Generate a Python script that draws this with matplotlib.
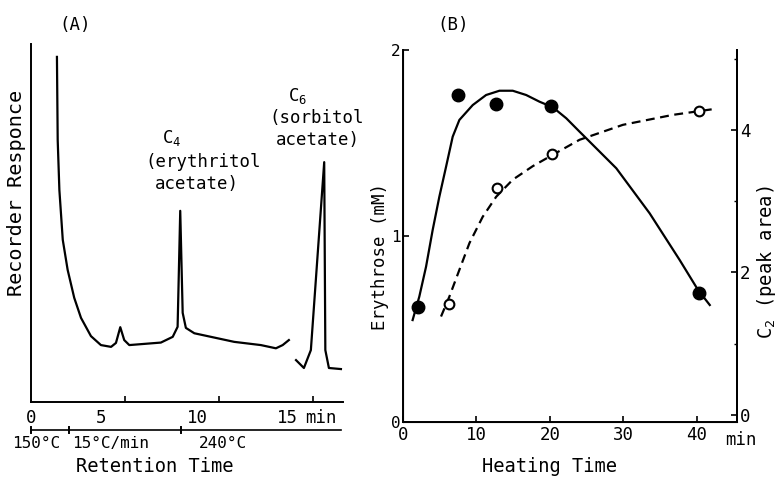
import numpy as np
import matplotlib
matplotlib.use("Agg")
import matplotlib.pyplot as plt

plt.rcParams["font.family"] = ["DejaVu Sans Mono"]
plt.rcParams["mathtext.fontset"] = "custom"
plt.rcParams["mathtext.rm"] = "DejaVu Sans Mono"
plt.rcParams["mathtext.it"] = "DejaVu Sans Mono"

# (A) chromatogram trace, retention time [min] vs recorder response (arbitrary)
chrom_t = [1.38, 1.42, 1.51, 1.69, 1.95, 2.30, 2.66, 3.19, 3.72, 4.26, 4.52, 4.75, 4.96,
           5.23, 6.91, 7.54, 7.80, 7.94, 8.07, 8.24, 8.69, 10.81, 12.23, 13.03, 13.39, 13.72]
chrom_r = [96.4, 73.2, 59.2, 45.3, 36.9, 29.1, 23.5, 18.4, 15.9, 15.4, 16.5, 20.9, 17.3,
           15.9, 16.6, 18.2, 21.0, 53.4, 24.9, 20.7, 19.2, 16.8, 15.9, 15.0, 15.9, 17.3]
sorb_t = [14.10, 14.52, 14.89, 15.60, 15.66, 15.85, 16.49]
sorb_r = [11.7, 9.5, 14.5, 67.0, 14.5, 9.5, 9.2]

# (B) measured points
ery_t = [2.1, 7.45, 12.7, 20.2, 40.3]
ery_mM = [0.62, 1.76, 1.71, 1.70, 0.695]
c2_t = [6.3, 12.8, 20.3, 40.3]
c2_area = [1.55, 3.18, 3.66, 4.27]

# (B) hand-drawn trend curves
ery_fit_t = [1.31, 2.22, 3.14, 4.04, 4.95, 5.87, 6.77, 7.68, 9.50, 11.32, 13.14, 14.95,
             16.78, 18.60, 20.41, 22.24, 24.05, 24.97, 29.06, 33.6, 37.69, 40.19, 41.79]
ery_fit = [0.548, 0.674, 0.835, 1.032, 1.211, 1.373, 1.534, 1.624, 1.704, 1.758, 1.781,
           1.781, 1.758, 1.722, 1.692, 1.633, 1.561, 1.525, 1.364, 1.122, 0.871, 0.710, 0.629]
c2_fit_t = [5.18, 6.32, 7.68, 9.05, 10.86, 12.69, 14.95, 17.68, 20.41, 24.05, 29.96,
            36.78, 40.19, 42.24]
c2_fit = [1.38, 1.66, 2.035, 2.41, 2.78, 3.06, 3.30, 3.49, 3.65, 3.86, 4.07, 4.21, 4.26, 4.29]

W, H = 777, 478
fig = plt.figure(figsize=(W / 100, H / 100), dpi=100)


def px_axes(l, t, r, b):
    return fig.add_axes([l / W, 1 - b / H, (r - l) / W, (b - t) / H])


def ftext(x, y, s, **kw):
    fig.text(x / W, 1 - y / H, s, ha="center", va="center", **kw)


fs = 12.5

# ---------------- panel A ----------------
axA = px_axes(31, 44, 343, 402)
axA.plot(chrom_t, chrom_r, color="k", lw=1.6, solid_joinstyle="round")
axA.plot(sorb_t, sorb_r, color="k", lw=1.6, solid_joinstyle="round")
axA.set_xlim(0, 16.6)
axA.set_ylim(0, 100)
for s in ["top", "right"]:
    axA.spines[s].set_visible(False)
for s in ["left", "bottom"]:
    axA.spines[s].set_linewidth(1.4)
axA.set_yticks([])
axA.set_xticks([5, 10, 15])
axA.set_xticklabels([])
axA.tick_params(axis="x", direction="in", length=4, width=1.2)

trA = axA.get_xaxis_transform()
for x, s in [(0, "0"), (3.72, "5"), (8.88, "10"), (13.67, "15"), (15.4, "min")]:
    axA.text(x, -0.045, s, transform=trA, ha="center", va="center", fontsize=fs)
# temperature program line
axA.plot([0, 16.5], [-0.078, -0.078], color="k", lw=1.2, transform=trA, clip_on=False)
for x in [0, 2, 8]:
    axA.plot([x, x], [-0.07, -0.086], color="k", lw=1.4, transform=trA, clip_on=False)
for x, s in [(0.27, "150°C"), (4.25, "15°C/min"), (10.2, "240°C")]:
    axA.text(x, -0.115, s, transform=trA, ha="center", va="center", fontsize=fs - 1)

ftext(155, 466, "Retention Time", fontsize=fs + 1)
ftext(17, 193, "Recorder Responce", rotation=90, fontsize=fs + 2)
ftext(75, 25, "(A)", fontsize=fs)
ftext(172, 138, "C$_4$", fontsize=fs)
ftext(203, 162, "(erythritol", fontsize=fs)
ftext(197, 184, "acetate)", fontsize=fs)
ftext(298, 96, "C$_6$", fontsize=fs)
ftext(317, 118, "(sorbitol", fontsize=fs)
ftext(318, 140, "acetate)", fontsize=fs)

# ---------------- panel B ----------------
axB = px_axes(403, 50, 737, 422)
axB.plot(ery_fit_t, ery_fit, color="k", lw=1.6, solid_joinstyle="round")
axB.plot(ery_t, ery_mM, "o", color="k", ms=9)
axB.set_xlim(0, 45.5)
axB.set_ylim(0, 2)
axB.spines["top"].set_visible(False)
for s in ["left", "bottom", "right"]:
    axB.spines[s].set_linewidth(1.4)
axB.set_yticks([0, 1, 2])
axB.set_yticklabels(["0", "1", "2"], fontsize=fs - 1)
axB.set_xticks([0, 10, 20, 30, 40])
axB.set_xticklabels(["0", "10", "20", "30", "40"], fontsize=fs)
axB.tick_params(axis="both", direction="in", length=4, width=1.2, pad=3)
axB.tick_params(axis="y", pad=2)

axB2 = axB.twinx()
axB2.plot(c2_fit_t, c2_fit, color="k", lw=1.6, ls=(0, (4, 2.5)))
axB2.plot(c2_t, c2_area, "o", mfc="white", mec="k", mew=1.5, ms=7)
axB2.set_ylim(-0.1, 5.12)
axB2.spines["top"].set_visible(False)
axB2.spines["right"].set_linewidth(1.4)
axB2.set_yticks([0, 2, 4])
axB2.set_yticklabels(["0", "2", "4"], fontsize=fs)
axB2.set_yticks([1, 3, 5], minor=True)
axB2.tick_params(axis="y", which="major", direction="in", length=4, width=1.2, pad=2)
axB2.tick_params(axis="y", which="minor", direction="in", length=2, width=1.0)

ftext(741, 440, "min", fontsize=fs)
ftext(550, 467, "Heating Time", fontsize=fs + 1)
ftext(380, 257, "Erythrose (mM)", rotation=90, fontsize=fs)
ftext(767, 262, "C$_2$ (peak area)", rotation=90, fontsize=fs + 1)
ftext(453, 25, "(B)", fontsize=fs)

fig.savefig("out.png", dpi=100)
